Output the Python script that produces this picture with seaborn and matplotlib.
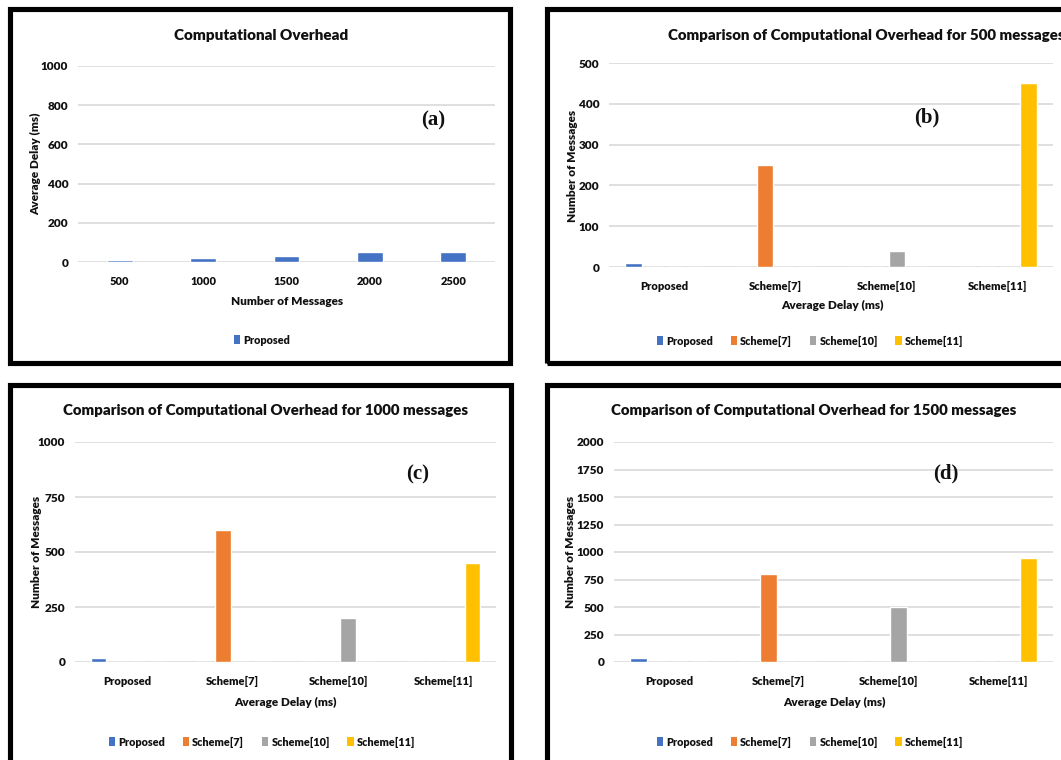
import numpy as np
import pandas as pd
import matplotlib
matplotlib.use("Agg")
import matplotlib.pyplot as plt
import seaborn as sns
from matplotlib.patches import Rectangle, Patch

# ---- data ----
msg_counts = ['500', '1000', '1500', '2000', '2500']
proposed_delay = [8, 20, 30, 50, 50]

schemes = ['Proposed', 'Scheme[7]', 'Scheme[10]', 'Scheme[11]']
delay_500 = [10, 250, 40, 450]
delay_1000 = [20, 600, 200, 450]
delay_1500 = [40, 800, 500, 950]

colors = ['#4472C4', '#ED7D31', '#A5A5A5', '#FFC000']

sns.set_theme(style='white')
plt.rcParams['font.family'] = ['Lato', 'DejaVu Sans']
plt.rcParams['text.color'] = '#111111'
plt.rcParams['xtick.color'] = '#111111'
plt.rcParams['ytick.color'] = '#111111'

W, H = 1061, 760
WT = 'heavy'
fig = plt.figure(figsize=(W / 100, H / 100), dpi=100)


def rect(x0, y0, x1, y1):
    return [x0 / W, 1 - y1 / H, (x1 - x0) / W, (y1 - y0) / H]


def frame(x0, y0, x1, y1):
    fig.patches.append(Rectangle((x0 / W, 1 - y1 / H), (x1 - x0) / W, (y1 - y0) / H,
                                 transform=fig.transFigure, fill=False,
                                 lw=3.7, edgecolor='black'))


def style(ax, ticks):
    ax.set_ylim(ticks[0], ticks[-1])
    ax.set_yticks(ticks)
    ax.yaxis.grid(True, color='#d9d9d9', lw=1.2)
    ax.set_axisbelow(True)
    for s in ax.spines.values():
        s.set_visible(False)
    ax.tick_params(axis='x', length=0, labelsize=8, pad=10)
    ax.tick_params(axis='y', length=0, labelsize=8.5, pad=7)
    for t in ax.get_xticklabels() + ax.get_yticklabels():
        t.set_fontweight(WT)


def longform(vals):
    rows = []
    for i, cat in enumerate(schemes):
        for j, ser in enumerate(schemes):
            rows.append((cat, ser, vals[i] if i == j else 0))
    return pd.DataFrame(rows, columns=['scheme', 'series', 'delay'])


def add_legend(labels, cols, cx, cy):
    handles = [Patch(facecolor=c, edgecolor='none') for c in cols]
    fig.legend(handles, labels, loc='center', bbox_to_anchor=(cx / W, 1 - cy / H),
               ncol=len(labels), frameon=False, handlelength=0.6, handleheight=0.9,
               handletextpad=0.3, columnspacing=1.6, prop={'size': 7.8, 'weight': WT})


def txt(x, y, s, **kw):
    fig.text(x / W, 1 - y / H, s, ha='center', va='center', **kw)


# panel frames
frame(10, 9, 510, 363)
frame(547, 9, 1075, 363)
frame(10, 385, 511, 780)
frame(547, 385, 1075, 780)

# (a)
ax = fig.add_axes(rect(78, 66, 495, 262))
sns.barplot(x=msg_counts, y=proposed_delay, color=colors[0], saturation=1,
            width=0.31, errorbar=None, ax=ax)
style(ax, np.arange(0, 1001, 200))
ax.set_xlabel('')
ax.set_ylabel('')
txt(261, 36, 'Computational Overhead', fontsize=11, fontweight=WT)
txt(36, 164, 'Average Delay (ms)', rotation=90, fontsize=8.5, fontweight=WT)
txt(287, 301, 'Number of Messages', fontsize=8.5, fontweight=WT)
txt(433, 120, '(a)', fontsize=15, fontweight='bold', family='Liberation Serif')
add_legend(['Proposed'], colors[:1], 262, 340)

# (b), (c), (d)
panels = [
    (delay_500, (609, 63, 1053, 267), np.arange(0, 501, 100),
     'Comparison of Computational Overhead for 500 messages', (866, 35),
     (572, 166), (832, 305), '(b)', (927, 117), (810, 341)),
    (delay_1000, (75, 442, 496, 662), np.arange(0, 1001, 250),
     'Comparison of Computational Overhead for 1000 messages', (266, 411),
     (36, 552), (285, 702), '(c)', (418, 474), (262, 742)),
    (delay_1500, (614, 442, 1053, 662), np.arange(0, 2001, 250),
     'Comparison of Computational Overhead for 1500 messages', (814, 411),
     (571, 552), (834, 702), '(d)', (946, 473), (810, 742)),
]

for vals, box, ticks, title, tpos, ypos, xpos, tag, tagpos, legpos in panels:
    ax = fig.add_axes(rect(*box))
    sns.barplot(data=longform(vals), x='scheme', y='delay', hue='series',
                order=schemes, hue_order=schemes, palette=colors, saturation=1,
                width=0.74, gap=0.2, errorbar=None, legend=False, ax=ax)
    style(ax, ticks)
    ax.set_xlabel('')
    ax.set_ylabel('')
    txt(*tpos, title, fontsize=10.8, fontweight=WT)
    txt(*ypos, 'Number of Messages', rotation=90, fontsize=8.5, fontweight=WT)
    txt(*xpos, 'Average Delay (ms)', fontsize=8.5, fontweight=WT)
    txt(*tagpos, tag, fontsize=15, fontweight='bold', family='Liberation Serif')
    add_legend(schemes, colors, *legpos)

fig.savefig('out.png', dpi=100)
